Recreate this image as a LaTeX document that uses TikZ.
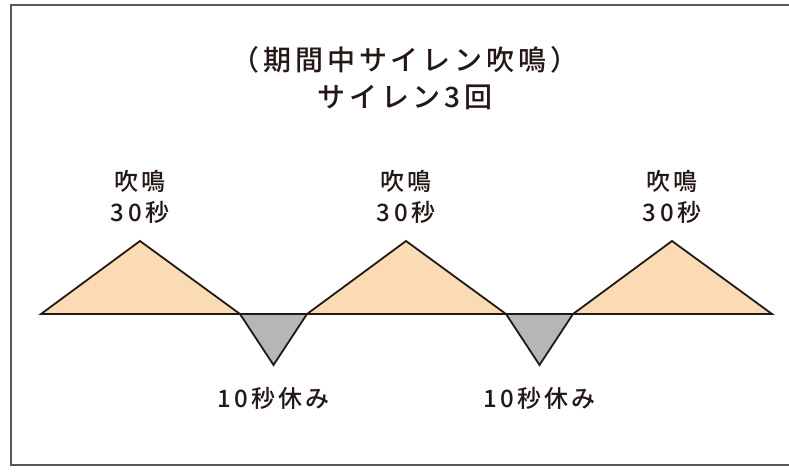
\documentclass[tikz,border=0pt]{standalone}
\usepackage{fontspec}
\setmainfont{Noto Sans CJK JP}[UprightFont=* Medium,LetterSpace=14]
\definecolor{ink}{HTML}{231815}
\definecolor{sirenfill}{HTML}{FADBB3}
\definecolor{restfill}{HTML}{B5B6B6}
\definecolor{framegray}{HTML}{595757}

\begin{document}
\begin{tikzpicture}[x=1pt,y=-1pt,
    titlelbl/.style={font=\fontsize{28}{37}\selectfont,text=ink,align=center},
    sirenlbl/.style={font=\fontsize{24}{31}\selectfont,text=ink,align=center},
    wave/.style={draw=ink,line width=1.8pt,line join=miter}]
    \useasboundingbox (0,0) rectangle (789,473);
    \draw[framegray,line width=1.6pt] (789,5) -- (11,5) -- (11,465) -- (789,465);
    \node[titlelbl] (title) at (405,78) {（期間中サイレン吹鳴）\\サイレン3回};
    % sounding 30 s
    \foreach \s [count=\i] in {0,266,532} {
        \filldraw[wave,fill=sirenfill] (41+\s,314) -- (140+\s,241) -- (240+\s,314) -- cycle;
        \node[sirenlbl] (blow\i) at (140+\s,197) {吹鳴\\30秒};
    }
    % pause 10 s
    \foreach \s [count=\i] in {0,266} {
        \filldraw[wave,fill=restfill] (240+\s,314) -- (273.5+\s,365) -- (307+\s,314) -- cycle;
        \node[sirenlbl] (rest\i) at (273.5+\s,398) {10秒休み};
    }
    \draw[wave] (41,314) -- (772,314);
\end{tikzpicture}
\end{document}
